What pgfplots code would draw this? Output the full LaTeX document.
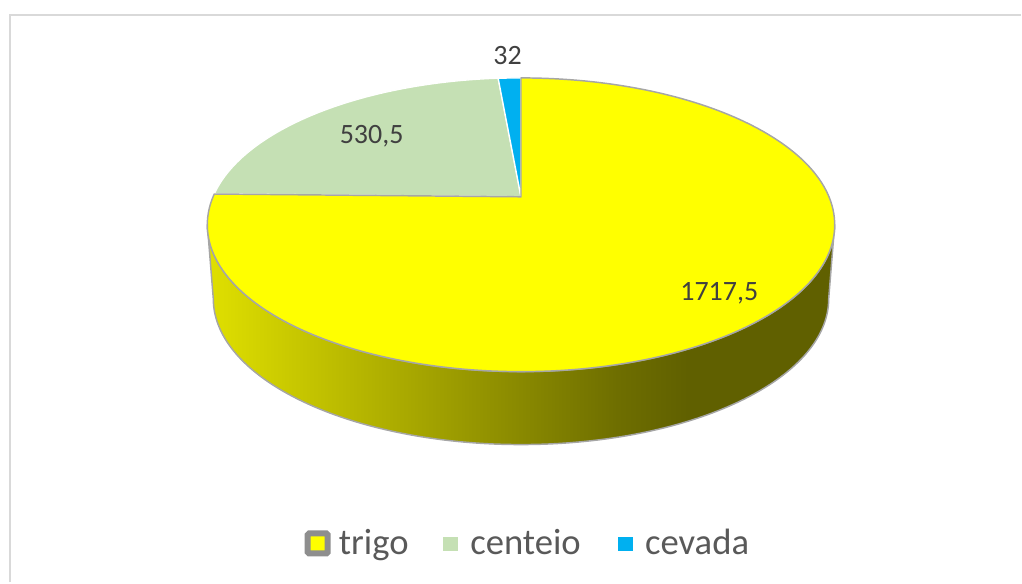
\documentclass[border=0pt]{standalone}
\usepackage{pgfplots}
\pgfplotsset{compat=1.18}
\usepackage{pgfplotstable}
\usepackage{fontspec}
\setmainfont{Carlito}
\definecolor{trigo}{HTML}{FFFF00}
\definecolor{centeio}{HTML}{C5E0B4}
\definecolor{cevada}{HTML}{00B0F0}
\definecolor{edge}{HTML}{A6A6A6}
\definecolor{frame}{HTML}{D9D9D9}
\definecolor{lbl}{HTML}{404040}
\definecolor{leg}{HTML}{595959}
\definecolor{mk}{HTML}{8E8E8E}
\definecolor{sa}{HTML}{E0E000}
\definecolor{sb}{HTML}{6E6E00}
\definecolor{sc}{HTML}{606000}
\pgfdeclarehorizontalshading{sidewall}{100bp}{color(0bp)=(sa); color(25bp)=(sa); color(57.7bp)=(sb); color(63.3bp)=(sc); color(75bp)=(sc); color(100bp)=(sc)}

\pgfplotstableread{
name value
trigo 1717.5
centeio 530.5
cevada 32
}\piedata

% perspective projection of a pie-circle angle #1 to a point on the top ellipse
\newcommand\piepoint[2]{%
  \pgfmathsetmacro\ps{sin(#1)}%
  \pgfmathsetmacro\pc{cos(#1)}%
  \pgfmathsetmacro\pd{1+0.19*\ps}%
  \pgfmathsetmacro\pX{308.3*\pc/\pd}%
  \pgfmathsetmacro\pY{141.6*\ps/\pd}%
  \expandafter\pgfmathsetmacro\csname #2x\endcsname{521.5+\pX}%
  \expandafter\pgfmathsetmacro\csname #2y\endcsname{386+\pY}%
  \expandafter\pgfmathsetmacro\csname #2t\endcsname{atan2((\pY+27.9)/147,\pX/314)}%
}

\begin{document}
\begin{tikzpicture}
\pgfplotstablegetelem{0}{value}\of\piedata\let\va\pgfplotsretval
\pgfplotstablegetelem{1}{value}\of\piedata\let\vb\pgfplotsretval
\pgfplotstablegetelem{2}{value}\of\piedata\let\vc\pgfplotsretval
\pgfmathsetmacro\tot{\va+\vb+\vc}
\pgfmathsetmacro\fa{\va/\tot}
\pgfmathsetmacro\fb{\vb/\tot}
\pgfmathsetmacro\thA{90}
\pgfmathsetmacro\thB{90-360*\fa}
\pgfmathsetmacro\thC{\thB-360*\fb}
\piepoint{\thA}{A}
\piepoint{\thB}{B}
\piepoint{\thC}{C}
\pgfmathsetmacro\Bend{\Bt>\At ? \Bt-360 : \Bt}
\pgfmathsetmacro\Cend{\Ct>\Bt ? \Ct-360 : \Ct}
\pgfmathsetmacro\Aend{\At>\Ct ? \At-360 : \At}
\begin{axis}[scale only axis, width=766.5pt, height=437.25pt,
  xmin=0, xmax=1022, ymin=0, ymax=583, hide axis, clip=false]
\path (axis cs:0,0) rectangle (axis cs:1022,583);
% chart frame
\draw[frame, line width=1.5pt] (axis cs:9.7,0) -- (axis cs:9.7,568) -- (axis cs:1022,568);
% side wall
\shadedraw[shading=sidewall, draw=edge, line width=1.1pt, line join=round]
  (axis cs:207.5,358.1) arc[start angle=180, end angle=360, x radius=235.5pt, y radius=110.25pt]
  -- (axis cs:829.5,284) arc[start angle=0, end angle=-180, x radius=231pt, y radius=109.5pt] -- cycle;
% centeio
\filldraw[fill=centeio, draw=white, line width=1pt, line join=round]
  (axis cs:521.5,386) -- (axis cs:\Bx,\By) arc[start angle=\Bt, end angle=\Cend, x radius=235.5pt, y radius=110.25pt] -- cycle;
% cevada
\filldraw[fill=cevada, draw=white, line width=1pt, line join=round]
  (axis cs:521.5,386) -- (axis cs:\Cx,\Cy) arc[start angle=\Ct, end angle=\Aend, x radius=235.5pt, y radius=110.25pt] -- cycle;
% trigo
\filldraw[fill=trigo, draw=edge, line width=1.1pt, line join=round]
  (axis cs:521.5,386) -- (axis cs:\Ax,\Ay) arc[start angle=\At, end angle=\Bend, x radius=235.5pt, y radius=110.25pt] -- cycle;
% data labels
\node[text=lbl, font=\fontsize{21}{25}\selectfont] at (axis cs:508,527) {32};
\node[text=lbl, font=\fontsize{21}{25}\selectfont] at (axis cs:372,447) {530,5};
\node[text=lbl, font=\fontsize{21}{25}\selectfont] at (axis cs:720,289) {1717,5};
% legend
\filldraw[fill=trigo, draw=mk, line width=4.5pt, rounded corners=1pt] (axis cs:308,29) rectangle (axis cs:328,49);
\node[anchor=base west, inner sep=0pt, text=leg, font=\fontsize{27.5}{33}\selectfont] at (axis cs:339,28) {trigo};
\fill[centeio] (axis cs:443.3,31) rectangle (axis cs:458.3,45);
\node[anchor=base west, inner sep=0pt, text=leg, font=\fontsize{27.5}{33}\selectfont] at (axis cs:470.5,28) {centeio};
\fill[cevada] (axis cs:618.3,31) rectangle (axis cs:633.3,45);
\node[anchor=base west, inner sep=0pt, text=leg, font=\fontsize{27.5}{33}\selectfont] at (axis cs:645.5,28) {cevada};
\end{axis}
\end{tikzpicture}
\end{document}
